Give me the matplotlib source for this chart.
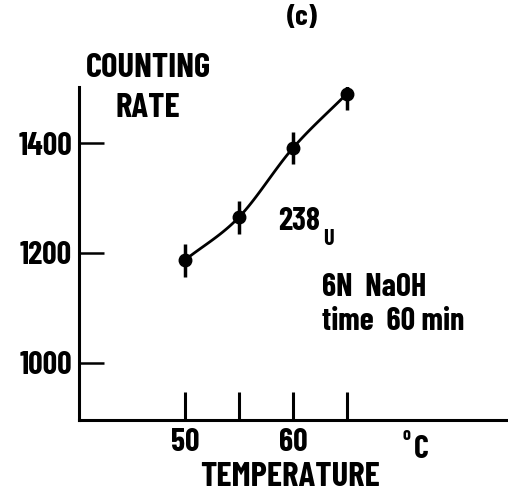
import numpy as np
import matplotlib
matplotlib.use("Agg")
import matplotlib.pyplot as plt

# counting rate of 238U vs temperature (6N NaOH, 60 min)
temp = [50, 55, 60, 65]
rate = [1187, 1265, 1391, 1490]
err = [30, 30, 30, 30]
xticks = [50, 55, 60, 65]
xlabels = ["50", "", "60", ""]
yticks = [1000, 1200, 1400]
ylabels = ["1000", "1200", "1400"]

W, H = 508, 497
FONT = ["Barlow Condensed", "DejaVu Sans"]

def px(x, y):
    return x / W, 1 - y / H

def catmull(x, y, n=40):
    # Catmull-Rom curve through the points
    p = np.column_stack([x, y]).astype(float)
    p = np.vstack([2 * p[0] - p[1], p, 2 * p[-1] - p[-2]])
    t = np.linspace(0, 1, n)[:, None]
    out = []
    for i in range(1, len(p) - 2):
        p0, p1, p2, p3 = p[i - 1], p[i], p[i + 1], p[i + 2]
        seg = 0.5 * ((2 * p1) + (-p0 + p2) * t + (2 * p0 - 5 * p1 + 4 * p2 - p3) * t ** 2
                     + (-p0 + 3 * p1 - 3 * p2 + p3) * t ** 3)
        out.append(seg)
    out = np.vstack(out)
    return out[:, 0], out[:, 1]

fig = plt.figure(figsize=(W / 100, H / 100), dpi=100)
ax = fig.add_axes([79 / W, (H - 420) / H, (W - 79) / W, (420 - 87) / H])

ax.errorbar(temp, rate, yerr=err, fmt="o", color="black", ms=9,
            elinewidth=2.5, capsize=0, zorder=3)
cx, cy = catmull(temp, rate)
ax.plot(cx, cy, color="black", lw=2)

ax.set_xlim(40.2, 79.9)
ax.set_ylim(896, 1502)
for s in ["top", "right"]:
    ax.spines[s].set_visible(False)
for s in ["left", "bottom"]:
    ax.spines[s].set_linewidth(2.2)

tk = dict(family=FONT, weight="bold", color="black")
ax.set_xticks(xticks)
ax.set_xticklabels(xlabels, fontsize=23, **tk)
ax.set_yticks(yticks)
ax.set_yticklabels(ylabels, fontsize=23, **tk)
ax.tick_params(axis="x", direction="in", length=20, width=2.2, pad=6)
ax.tick_params(axis="y", direction="in", length=18, width=1.8, pad=5)

fig.text(*px(302, 17), "(c)", ha="center", va="center", fontsize=21, **tk)
fig.text(*px(148, 68), "COUNTING", ha="center", va="center", fontsize=25, **tk)
fig.text(*px(148, 108), "RATE", ha="center", va="center", fontsize=25, **tk)
fig.text(*px(299, 222), "238", ha="center", va="center", fontsize=23, **tk)
fig.text(*px(328, 239), "U", ha="center", va="center", fontsize=16, **tk)
fig.text(*px(322, 288), "6N  NaOH", ha="left", va="center", fontsize=23, **tk)
fig.text(*px(322, 322), "time  60 min", ha="left", va="center", fontsize=23, **tk)
fig.text(*px(406, 436), "o", ha="center", va="center", fontsize=13, **tk)
fig.text(*px(421, 450), "C", ha="center", va="center", fontsize=23, **tk)
fig.text(*px(290, 477), "TEMPERATURE", ha="center", va="center", fontsize=25, **tk)

fig.savefig("out.png", dpi=100)
